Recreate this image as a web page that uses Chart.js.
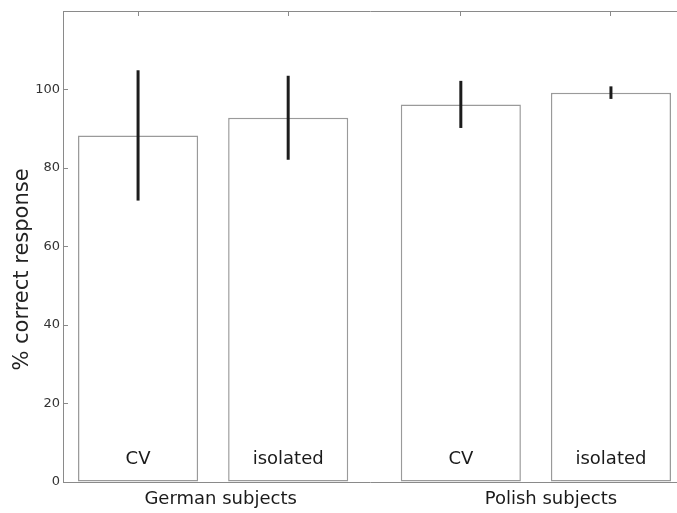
<!DOCTYPE html>
<html>
<head>
<meta charset="utf-8">
<script src="https://cdn.jsdelivr.net/npm/chart.js@4.4.1/dist/chart.umd.min.js"></script>
<style>
  html, body { margin: 0; padding: 0; background: #ffffff; }
  #wrap { width: 677px; height: 513px; }
</style>
</head>
<body>
<div id="wrap"><canvas id="c" width="677" height="513"></canvas></div>
<script>
// Condition labels written inside each bar
const conditions = ['CV', 'isolated', 'CV', 'isolated'];
// Subject groups and where their labels sit on the x axis
const groups = ['German subjects', 'Polish subjects'];
const groupX = [1.55, 3.75];
// Bar locations on the x axis (two bars per group)
const barX = [1, 2, 3.15, 4.15];
// Mean % correct response and error-bar half length
const meanCorrect = [88.3, 92.8, 96.2, 99.2];
const errHalf = [16.6, 10.7, 6.0, 1.6];
// Y tick values
const yTicks = [0, 20, 40, 60, 80, 100];

const AXIS = '#8a8a8a';
const FONT = 'DejaVu Sans';
Chart.defaults.font.family = FONT;

// Fix a scale's thickness and drop the edge padding reserved for its labels
function fixSize(prop, value) {
  return s => {
    s[prop] = value;
    s.paddingTop = 0; s.paddingBottom = 0;
    s.paddingLeft = 0; s.paddingRight = 0;
  };
}

// Vertical error bars centred on each bar
const errorBars = {
  id: 'errorBars',
  afterDatasetsDraw(chart) {
    const meta = chart.getDatasetMeta(0);
    const y = chart.scales.y;
    const ctx = chart.ctx;
    ctx.save();
    ctx.strokeStyle = '#1c1c1c';
    ctx.lineWidth = 3;
    ctx.lineCap = 'butt';
    meta.data.forEach((bar, i) => {
      ctx.beginPath();
      ctx.moveTo(bar.x, y.getPixelForValue(meanCorrect[i] - errHalf[i]));
      ctx.lineTo(bar.x, y.getPixelForValue(meanCorrect[i] + errHalf[i]));
      ctx.stroke();
    });
    ctx.restore();
  }
};

// Rotated y-axis label
const yLabel = {
  id: 'yLabel',
  afterDraw(chart) {
    const ctx = chart.ctx;
    const a = chart.chartArea;
    ctx.save();
    ctx.translate(23, (a.top + a.bottom) / 2 + 23);
    ctx.rotate(-Math.PI / 2);
    ctx.font = '21px "' + FONT + '"';
    ctx.fillStyle = '#222222';
    ctx.textAlign = 'center';
    ctx.textBaseline = 'middle';
    ctx.fillText('% correct response', 0, 0);
    ctx.restore();
  }
};

new Chart(document.getElementById('c'), {
  type: 'bar',
  data: {
    datasets: [{
      data: barX.map((x, i) => ({ x: x, y: meanCorrect[i] })),
      backgroundColor: '#ffffff',
      borderColor: '#9a9a9a',
      borderWidth: 1.5,
      borderSkipped: false,
      barPercentage: 0.8,
      categoryPercentage: 1.0,
      xAxisID: 'x',
      yAxisID: 'y'
    }]
  },
  options: {
    responsive: false,
    animation: false,
    devicePixelRatio: 1,
    layout: { padding: { left: 0, top: 11, right: 0, bottom: 0 } },
    plugins: {
      legend: { display: false },
      tooltip: { enabled: false },
      title: { display: false }
    },
    scales: {
      x: {
        type: 'linear',
        position: 'bottom',
        weight: 0,
        min: 0.5,
        max: 4.59,
        offset: false,
        grid: { display: false, offset: false, drawOnChartArea: false, drawTicks: false },
        border: { display: true, color: AXIS, width: 1 },
        afterBuildTicks: s => { s.ticks = barX.map(v => ({ value: v })); },
        afterFit: fixSize('height', 0),
        ticks: {
          z: 2,
          mirror: true,
          autoSkip: false,
          maxRotation: 0,
          minRotation: 0,
          padding: 12,
          color: '#1a1a1a',
          font: { size: 18 },
          callback: (v, i) => conditions[i]
        }
      },
      xg: {
        type: 'linear',
        position: 'bottom',
        weight: 1,
        min: 0.5,
        max: 4.59,
        offset: false,
        grid: { display: false, offset: false, drawTicks: false },
        border: { display: false },
        afterBuildTicks: s => { s.ticks = groupX.map(v => ({ value: v })); },
        afterFit: fixSize('height', 31),
        ticks: {
          autoSkip: false,
          maxRotation: 0,
          minRotation: 0,
          padding: 7,
          color: '#1a1a1a',
          font: { size: 18 },
          callback: (v, i) => groups[i]
        }
      },
      xt: {
        type: 'linear',
        position: 'top',
        min: 0.5,
        max: 4.59,
        offset: false,
        grid: { display: true, offset: false, drawOnChartArea: false, drawTicks: true, tickLength: -5, color: AXIS },
        border: { display: true, color: AXIS, width: 1 },
        afterBuildTicks: s => { s.ticks = barX.map(v => ({ value: v })); },
        afterFit: fixSize('height', 0),
        ticks: { display: false }
      },
      y: {
        type: 'linear',
        position: 'left',
        min: 0,
        max: 120,
        grid: { display: true, drawOnChartArea: false, drawTicks: true, tickLength: -5, color: AXIS },
        border: { display: true, color: AXIS, width: 1 },
        afterBuildTicks: s => { s.ticks = yTicks.map(v => ({ value: v })); },
        afterFit: fixSize('width', 63),
        ticks: {
          padding: 8,
          color: '#333333',
          font: { size: 13 },
          callback: v => String(v)
        }
      }
    }
  },
  plugins: [errorBars, yLabel]
});
</script>
</body>
</html>
